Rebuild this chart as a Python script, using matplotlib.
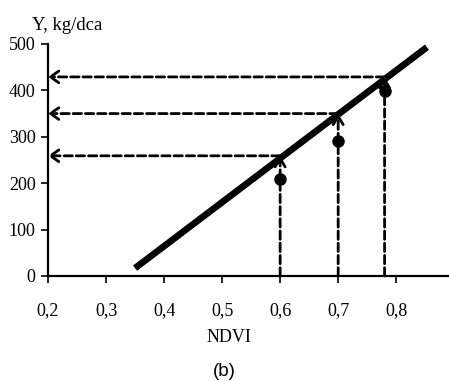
import matplotlib
matplotlib.use("Agg")
import matplotlib.pyplot as plt

# regression line ends
line_x = [0.35, 0.853]
line_y = [17, 493]

# measured points
ndvi_pts = [0.6, 0.7, 0.78]
yield_pts = [208, 291, 398]

# read-off values on the line (dashed guides)
guide_x = [0.6, 0.7, 0.78]
guide_y = [259, 350, 429]

x_ticks = [0.2, 0.3, 0.4, 0.5, 0.6, 0.7, 0.8]
x_labels = ["0,2", "0,3", "0,4", "0,5", "0,6", "0,7", "0,8"]
y_ticks = [0, 100, 200, 300, 400, 500]

serif = "Liberation Serif"

fig = plt.figure(figsize=(4.49, 3.81), dpi=100)
ax = fig.add_axes([0.107, 0.2756, 0.893, 0.609])

ax.plot(line_x, line_y, color="black", linewidth=4.8, solid_capstyle="butt", zorder=3)
ax.plot(ndvi_pts, yield_pts, "o", color="black", markersize=8, zorder=4)

dash = (0, (3, 1.4))
for gx, gy in zip(guide_x, guide_y):
    # vertical guide, arrow pointing up to the line
    ax.annotate("", xy=(gx, gy), xytext=(gx, 0),
                arrowprops=dict(arrowstyle="->,head_length=0.5,head_width=0.3", linestyle=dash,
                                linewidth=2.0, color="black", shrinkA=0, shrinkB=0,
                                mutation_scale=12))
    # horizontal guide, arrow pointing left to the y-axis
    ax.annotate("", xy=(0.2, gy), xytext=(gx, gy),
                arrowprops=dict(arrowstyle="->,head_length=0.5,head_width=0.35", linestyle=dash,
                                linewidth=2.0, color="black", shrinkA=0, shrinkB=0,
                                mutation_scale=12))

ax.set_xlim(0.2, 0.891)
ax.set_ylim(0, 500)
ax.set_xticks(x_ticks)
ax.set_xticklabels(x_labels)
ax.set_yticks(y_ticks)

for s in ["top", "right"]:
    ax.spines[s].set_visible(False)
for s in ["left", "bottom"]:
    ax.spines[s].set_linewidth(1.6)

ax.tick_params(direction="out", length=5, width=1.2, labelsize=13, pad=4)
for lbl in ax.get_xticklabels() + ax.get_yticklabels():
    lbl.set_fontfamily(serif)
ax.tick_params(axis="x", pad=14)

fig.text(0.072, 0.921, "Y, kg/dca", fontfamily=serif, fontsize=13.5, ha="left", va="baseline")
fig.text(0.51, 0.113, "NDVI", fontfamily=serif, fontsize=13, ha="center", va="center")
fig.text(0.5, 0.024, "(b)", fontfamily="Liberation Sans", fontsize=13.5, ha="center", va="center")

fig.savefig("out.png", dpi=100)
